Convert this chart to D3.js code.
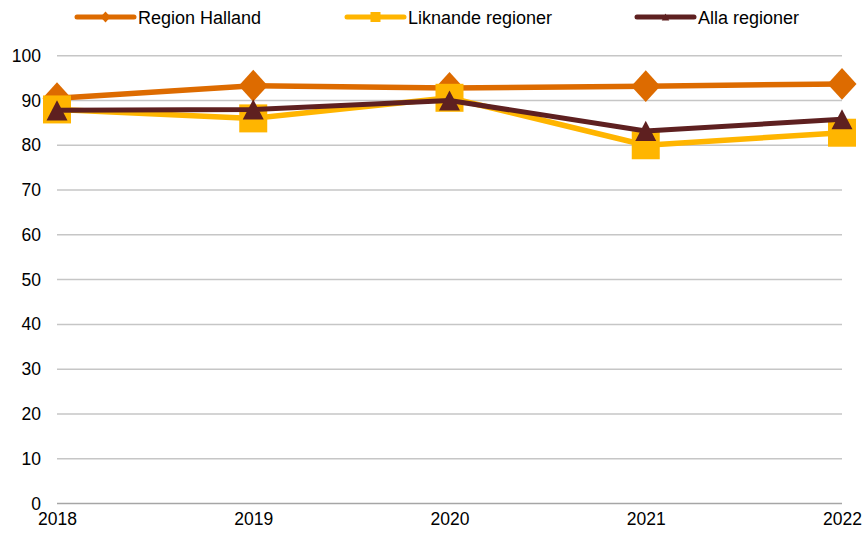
<!DOCTYPE html>
<html>
<head>
<meta charset="utf-8">
<script src="https://cdn.jsdelivr.net/npm/d3@7"></script>
<style>
  html, body { margin: 0; padding: 0; background: #fff; }
  svg { display: block; }
  text { font-family: "Liberation Sans", Arial, sans-serif; fill: #000; }
</style>
</head>
<body>
<svg id="chart" width="865" height="533"></svg>
<script>
// Years on the x axis
const years = ["2018", "2019", "2020", "2021", "2022"];

// Series values (percent)
const regionHalland = [90.5, 93.3, 92.8, 93.2, 93.7];
const liknandeRegioner = [88.0, 86.0, 90.6, 80.0, 82.8];
const allaRegioner = [87.8, 88.0, 90.0, 83.2, 85.8];

// Y axis ticks
const yTicks = [0, 10, 20, 30, 40, 50, 60, 70, 80, 90, 100];

const seriesNames = ["Region Halland", "Liknande regioner", "Alla regioner"];

const series = [
  { name: seriesNames[0], values: regionHalland, color: "#DD6B00", width: 5.5, marker: "diamond" },
  { name: seriesNames[1], values: liknandeRegioner, color: "#FFB500", width: 5.5, marker: "square" },
  { name: seriesNames[2], values: allaRegioner, color: "#5E2020", width: 5, marker: "triangle" }
];

const svg = d3.select("#chart");

const x = d3.scalePoint().domain(years).range([57, 842]);
const y = d3.scaleLinear().domain([0, 100]).range([503.5, 55.7]);

// Horizontal gridlines
svg.append("g")
  .selectAll("line")
  .data(yTicks)
  .join("line")
  .attr("x1", x(years[0]))
  .attr("x2", x(years[years.length - 1]))
  .attr("y1", d => y(d))
  .attr("y2", d => y(d))
  .attr("stroke", d => d === 0 ? "#A6A6A6" : "#C6C6C6")
  .attr("stroke-width", 1.5);

// Y axis labels
const yAxis = d3.axisLeft(y).tickValues(yTicks).tickSize(0).tickPadding(0);
svg.append("g")
  .attr("transform", "translate(41,0)")
  .call(yAxis)
  .call(g => g.select(".domain").remove())
  .call(g => g.selectAll("text")
    .attr("font-size", 17.5)
    .attr("font-family", "Liberation Sans, Arial, sans-serif")
    .attr("fill", "#000"));

// X axis labels
const xAxis = d3.axisBottom(x).tickSize(0).tickPadding(0);
svg.append("g")
  .attr("transform", "translate(0,513)")
  .call(xAxis)
  .call(g => g.select(".domain").remove())
  .call(g => g.selectAll("text")
    .attr("font-size", 17.5)
    .attr("font-family", "Liberation Sans, Arial, sans-serif")
    .attr("fill", "#000")
    .attr("dy", "0.71em"));

// Marker shapes centred on the point
function markerPath(type, s) {
  if (type === "diamond") {
    const w = s / 2, h = s / 2 * 1.1;
    return `M0,${-h}L${w},0L0,${h}L${-w},0Z`;
  }
  if (type === "square") {
    const h = s / 2;
    return `M${-h},${-h}H${h}V${h}H${-h}Z`;
  }
  // triangle
  const w = s * 0.75 / 2, h = s * 0.72 / 2;
  return `M0,${-h}L${w},${h}L${-w},${h}Z`;
}

const markerSize = { diamond: 29, square: 28, triangle: 28 };

const line = d3.line()
  .x((d, i) => x(years[i]))
  .y(d => y(d));

series.forEach(s => {
  const g = svg.append("g");
  g.append("path")
    .datum(s.values)
    .attr("d", line)
    .attr("fill", "none")
    .attr("stroke", s.color)
    .attr("stroke-width", s.width)
    .attr("stroke-linejoin", "round")
    .attr("stroke-linecap", "round");
  g.selectAll("path.marker")
    .data(s.values)
    .join("path")
    .attr("class", "marker")
    .attr("transform", (d, i) => `translate(${x(years[i])},${y(d)})`)
    .attr("d", markerPath(s.marker, markerSize[s.marker]))
    .attr("fill", s.color);
});

// Legend
const legendX = [77, 347, 637];
const legendY = 17;
const legend = svg.append("g");
series.forEach((s, i) => {
  const g = legend.append("g").attr("transform", `translate(${legendX[i]},${legendY})`);
  g.append("line")
    .attr("x1", 0).attr("x2", 57)
    .attr("y1", 0).attr("y2", 0)
    .attr("stroke", s.color)
    .attr("stroke-width", 5)
    .attr("stroke-linecap", "round");
  g.append("path")
    .attr("transform", "translate(28.5,0)")
    .attr("d", markerPath(s.marker, 10))
    .attr("fill", s.color);
  g.append("text")
    .attr("x", 61)
    .attr("y", 7)
    .attr("font-size", 18)
    .text(s.name);
});
</script>
</body>
</html>
